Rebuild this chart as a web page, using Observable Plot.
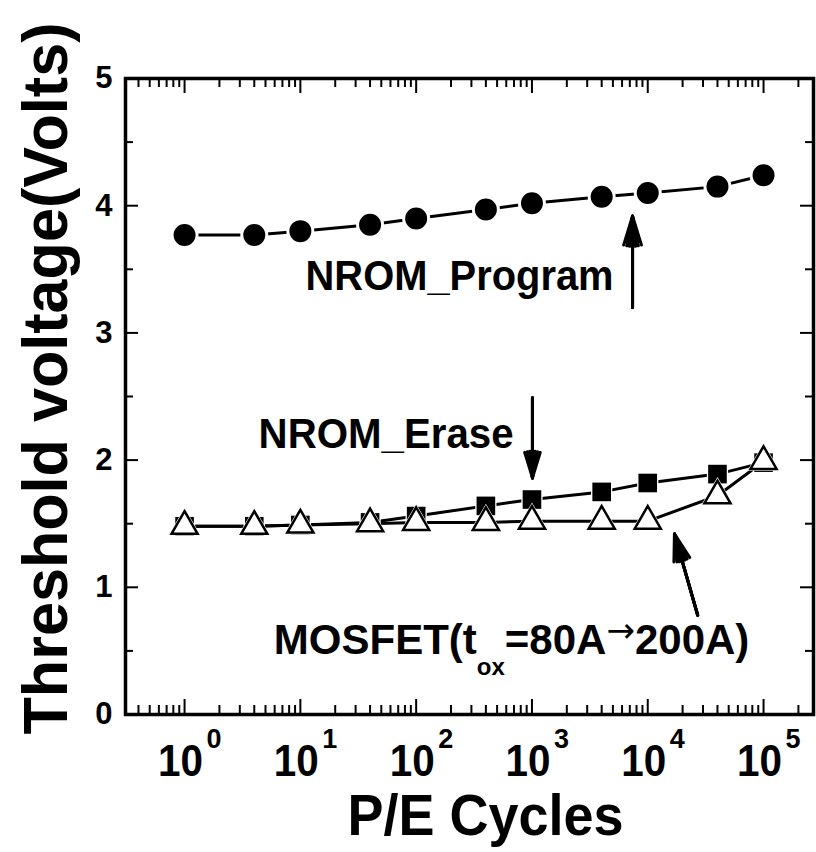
<!DOCTYPE html>
<html>
<head>
<meta charset="utf-8">
<script src="https://cdn.jsdelivr.net/npm/d3@7"></script>
<script src="https://cdn.jsdelivr.net/npm/@observablehq/plot@0.6"></script>
<style>
  html, body { margin: 0; padding: 0; background: #fff; }
</style>
</head>
<body>
<div id="chart"></div>
<script>
// ---- data ----
const cycles  = [1, 4, 10, 40, 100, 400, 1000, 4000, 10000, 40000, 100000];
const program = [3.77, 3.77, 3.80, 3.85, 3.90, 3.97, 4.02, 4.07, 4.10, 4.15, 4.24];
const erase   = [1.48, 1.48, 1.49, 1.51, 1.56, 1.64, 1.69, 1.75, 1.82, 1.89, 1.98];
const mosfet  = [1.48, 1.48, 1.49, 1.50, 1.51, 1.51, 1.52, 1.52, 1.52, 1.72, 1.99];

const xMajor = [1, 10, 100, 1000, 10000, 100000];
const xExp   = ["0", "1", "2", "3", "4", "5"];
const yMajor = [0, 1, 2, 3, 4, 5];
const yLabels = ["0", "1", "2", "3", "4", "5"];
const yMinor = [0.5, 1.5, 2.5, 3.5, 4.5];

const xLabel = "P/E Cycles";
const yLabel = "Threshold voltage(Volts)";
const MOSFET_KEY = "MOSFET(tox=80A→200A)";

// annotations (data coordinates: cycles, volts)
const notes = [
  {text: "NROM_Program", x: 237, y: 3.44},
  {text: "NROM_Erase",   x: 55,  y: 2.20},
  {text: MOSFET_KEY,     x: 667, y: 0.585}
];
const arrows = [
  {x1: 7390,  y1: 3.20, x2: 7390,  y2: 3.92},
  {x1: 1010,  y1: 2.49, x2: 1010,  y2: 1.86},
  {x1: 27000, y1: 0.78, x2: 17000, y2: 1.42}
];

const xDomain = [0.309, 2.7e5];
const xMinor = [];
for (let n = -1; n <= 5; n++) for (let k = 2; k <= 9; k++) {
  const v = k * Math.pow(10, n);
  if (v > xDomain[0] && v < xDomain[1]) xMinor.push(v);
}

const rows = (ys) => cycles.map((c, i) => ({c, v: ys[i]}));
const P = rows(program), E = rows(erase), M = rows(mosfet);

const W = 816, H = 852;
const mt = 78, mb = 138, ml = 125, mr = 3;
const iw = W - ml - mr, ih = H - mt - mb;

const arrowMarks = [34, 22, 12, 4].map(a =>
  Plot.arrow(arrows, {x1: "x1", y1: "y1", x2: "x2", y2: "y2", stroke: "#000", strokeWidth: 3, headLength: 18, headAngle: a})
);

const chart = Plot.plot({
  width: W, height: H,
  marginTop: mt, marginBottom: mb, marginLeft: ml, marginRight: mr,
  style: "font-family: 'Liberation Sans', Arial, sans-serif; font-weight: bold; background: #fff; color: #000;",
  x: {type: "log", domain: xDomain, axis: null},
  y: {domain: [0, 5], axis: null},
  marks: [
    // inward ticks
    Plot.ruleX(xMajor, {x: d => d, insetTop: ih - 15, strokeWidth: 2}),
    Plot.ruleX(xMajor, {x: d => d, insetBottom: ih - 15, strokeWidth: 2}),
    Plot.ruleX(xMinor, {x: d => d, insetTop: ih - 9, strokeWidth: 2}),
    Plot.ruleX(xMinor, {x: d => d, insetBottom: ih - 9, strokeWidth: 2}),
    Plot.ruleY(yMajor, {y: d => d, insetRight: iw - 13, strokeWidth: 2}),
    Plot.ruleY(yMajor, {y: d => d, insetLeft: iw - 13, strokeWidth: 2}),
    Plot.ruleY(yMinor, {y: d => d, insetRight: iw - 8, strokeWidth: 2}),
    Plot.ruleY(yMinor, {y: d => d, insetLeft: iw - 8, strokeWidth: 2}),
    Plot.frame({strokeWidth: 3.5}),
    // tick labels
    Plot.text(xMajor, {x: d => d, frameAnchor: "bottom", lineAnchor: "middle", text: () => "10", dy: 47, dx: -4, fontSize: 45, textAnchor: "middle"}),
    Plot.text(xMajor, {x: d => d, frameAnchor: "bottom", lineAnchor: "middle", text: (d, i) => xExp[i], dy: 25, dx: 22, fontSize: 27, textAnchor: "start"}),
    Plot.text(yMajor, {y: d => d, frameAnchor: "left", lineAnchor: "middle", text: (d, i) => yLabels[i], dx: -13, fontSize: 31, textAnchor: "end"}),
    // axis labels
    Plot.text([xLabel], {frameAnchor: "bottom", lineAnchor: "middle", textAnchor: "middle", text: d => d, dx: 16, dy: 102, fontSize: 58}),
    Plot.text([yLabel], {frameAnchor: "left", lineAnchor: "middle", textAnchor: "middle", text: d => d, rotate: -90, dx: -79, dy: -18, fontSize: 63}),
    // series lines
    Plot.line(E, {x: "c", y: "v", stroke: "#000", strokeWidth: 3}),
    Plot.line(M, {x: "c", y: "v", stroke: "#000", strokeWidth: 3}),
    Plot.line(P, {x: "c", y: "v", stroke: "#000", strokeWidth: 3}),
    // markers
    Plot.dot(P, {x: "c", y: "v", r: 12.5, fill: "#000", stroke: "#fff", strokeWidth: 3}),
    Plot.dot(E, {x: "c", y: "v", r: 12, symbol: "square", fill: "#fff"}),
    Plot.dot(E, {x: "c", y: "v", r: 10.5, symbol: "square", fill: "#000"}),
    Plot.dot(M, {x: "c", y: "v", r: 12, symbol: "triangle", fill: "#fff"}),
    Plot.dot(M, {x: "c", y: "v", r: 9.7, symbol: "triangle", fill: "#fff", stroke: "#000", strokeWidth: 2.5}),
    // annotations
    Plot.text(notes, {x: "x", y: "y", text: "text", fontSize: 42, textAnchor: "middle", lineAnchor: "middle"}),
    ...arrowMarks
  ]
});

// text fitting and rich text
const fit = {"10": 45, [xLabel]: 276, [yLabel]: 712, "NROM_Program": 308, "NROM_Erase": 255};
chart.querySelectorAll("text").forEach(t => {
  const s = t.textContent;
  if (fit[s] !== undefined) {
    t.setAttribute("textLength", fit[s]);
    t.setAttribute("lengthAdjust", "spacingAndGlyphs");
  }
  if (s === MOSFET_KEY) {
    while (t.firstChild) t.removeChild(t.firstChild);
    const ns = "http://www.w3.org/2000/svg";
    const add = (txt, attrs) => {
      const ts = document.createElementNS(ns, "tspan");
      ts.textContent = txt;
      for (const k in attrs) ts.setAttribute(k, attrs[k]);
      t.appendChild(ts);
    };
    add("MOSFET(t", {});
    add("ox", {"font-size": 24, dy: 21});
    add("=80A", {dy: -21});
    add("\u2192", {"font-size": 34, dy: -12, "font-weight": "normal", "font-family": "'DejaVu Sans', sans-serif"});
    add("200A)", {dy: 12});
  }
});

document.getElementById("chart").appendChild(chart);
</script>
</body>
</html>
